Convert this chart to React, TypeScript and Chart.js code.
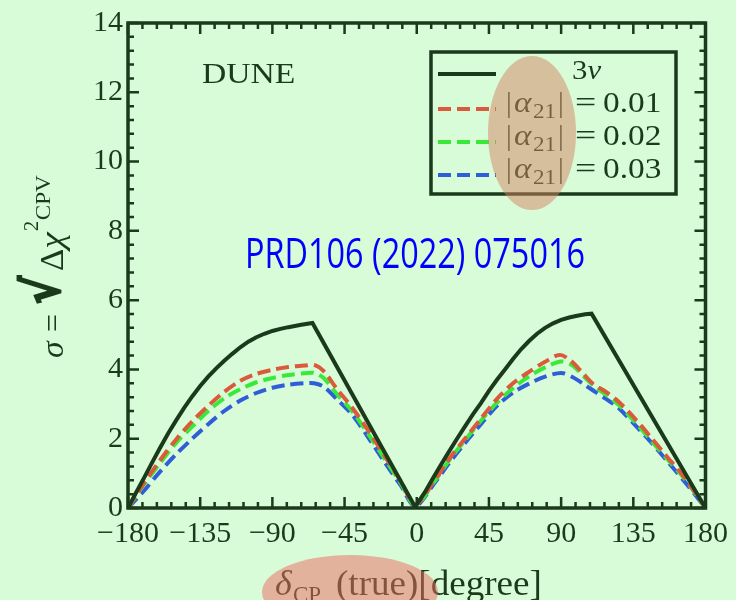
import React, { useEffect, useRef } from 'react';
import { Chart, registerables } from 'chart.js';

Chart.register(...registerables);

// ---------- data ----------
const xTickValues = [-180, -135, -90, -45, 0, 45, 90, 135, 180];
const yTickValues = [0, 2, 4, 6, 8, 10, 12, 14];

const seriesLabels = ['3ν', '|α21|=0.01', '|α21|=0.02', '|α21|=0.03'];

const deg3nu = [-180, -175, -170, -165, -160, -155, -150, -145, -140, -135, -130, -125, -120, -115, -110, -105, -100, -95, -90, -85, -80, -72, -65, -1, 5, 10, 15, 20, 25, 30, 35, 40, 45, 50, 55, 60, 65, 70, 75, 80, 85, 90, 95, 100, 105, 109, 180];
const sig3nu = [0, 0.44, 0.87, 1.31, 1.74, 2.15, 2.53, 2.89, 3.22, 3.52, 3.79, 4.03, 4.25, 4.45, 4.64, 4.8, 4.93, 5.03, 5.11, 5.17, 5.22, 5.29, 5.34, 0.03, 0.45, 0.85, 1.24, 1.62, 1.99, 2.35, 2.7, 3.03, 3.38, 3.7, 4.0, 4.3, 4.58, 4.82, 5.03, 5.2, 5.33, 5.43, 5.5, 5.55, 5.59, 5.61, 0];

const deg01 = [-180, -170, -160, -150, -140, -130, -120, -110, -100, -90, -80, -70, -64, -58, -50, -40, -30, -20, -10, -1, 10, 20, 30, 40, 50, 60, 70, 80, 89, 96, 103, 110, 118, 126, 136, 146, 156, 167, 180];
const sig01 = [0, 0.72, 1.38, 1.98, 2.5, 2.95, 3.35, 3.67, 3.87, 3.99, 4.07, 4.11, 4.13, 3.95, 3.45, 2.88, 2.22, 1.5, 0.78, 0.1, 0.72, 1.4, 2.0, 2.58, 3.15, 3.6, 3.93, 4.22, 4.42, 4.25, 3.92, 3.58, 3.35, 3.06, 2.58, 2.04, 1.48, 0.88, 0];

const deg02 = [-180, -170, -160, -150, -140, -130, -120, -110, -100, -90, -80, -70, -64, -58, -50, -40, -30, -20, -10, -1, 10, 20, 30, 40, 50, 60, 70, 80, 90, 97, 104, 111, 118, 126, 136, 146, 156, 167, 180];
const sig02 = [0, 0.68, 1.3, 1.88, 2.35, 2.8, 3.17, 3.43, 3.63, 3.75, 3.84, 3.89, 3.9, 3.75, 3.3, 2.78, 2.12, 1.42, 0.72, 0.08, 0.7, 1.36, 1.95, 2.52, 3.04, 3.46, 3.8, 4.06, 4.23, 4.12, 3.8, 3.5, 3.27, 2.97, 2.48, 1.95, 1.42, 0.84, 0];

const deg03 = [-180, -170, -160, -150, -140, -130, -120, -110, -100, -90, -80, -70, -64, -58, -50, -40, -30, -20, -10, -1, 10, 20, 30, 40, 50, 60, 70, 80, 90, 97, 104, 111, 118, 126, 136, 146, 156, 167, 180];
const sig03 = [0, 0.5, 1.05, 1.55, 2.0, 2.42, 2.8, 3.1, 3.32, 3.47, 3.56, 3.6, 3.6, 3.5, 3.15, 2.68, 2.02, 1.32, 0.65, 0.05, 0.65, 1.28, 1.87, 2.42, 2.95, 3.33, 3.59, 3.79, 3.9, 3.78, 3.58, 3.36, 3.15, 2.88, 2.4, 1.9, 1.36, 0.76, 0];

// ---------- styles ----------
const BG = '#d8fbd8';
const DARK = '#1b3a1b';
const SERIF = '"Liberation Serif", "DejaVu Serif", serif';

const toPoints = (xs: number[], ys: number[]) => xs.map((x, i) => ({ x, y: ys[i] }));

const decorPlugin = {
  id: 'decor',
  beforeDraw(chart: any) {
    const ctx = chart.ctx;
    ctx.save();
    ctx.fillStyle = BG;
    ctx.fillRect(0, 0, chart.width, chart.height);
    ctx.restore();
  },
  afterDatasetsDraw(chart: any) {
    const ctx: CanvasRenderingContext2D = chart.ctx;
    const { left, right, top, bottom } = chart.chartArea;
    const xs = chart.scales.x;
    const ys = chart.scales.y;
    ctx.save();

    // frame
    ctx.strokeStyle = DARK;
    ctx.lineWidth = 3.5;
    ctx.strokeRect(left, top, right - left, bottom - top);

    // ticks (inward, all four sides)
    ctx.lineWidth = 2.5;
    ctx.beginPath();
    for (let v = -180; v <= 180; v += 9) {
      const px = xs.getPixelForValue(v);
      const len = v % 45 === 0 ? 11 : 6;
      ctx.moveTo(px, bottom);
      ctx.lineTo(px, bottom - len);
      ctx.moveTo(px, top);
      ctx.lineTo(px, top + len);
    }
    for (let k = 0; k <= 35; k++) {
      const v = k * 0.4;
      const py = ys.getPixelForValue(v);
      const len = k % 5 === 0 ? 11 : 6;
      ctx.moveTo(left, py);
      ctx.lineTo(left + len, py);
      ctx.moveTo(right, py);
      ctx.lineTo(right - len, py);
    }
    ctx.stroke();

    const txt = (s: string, x: number, y: number, font: string, sx = 1, stroke = 0) => {
      ctx.save();
      ctx.font = font;
      ctx.translate(x, y);
      ctx.scale(sx, 1);
      ctx.fillText(s, 0, 0);
      if (stroke > 0) {
        ctx.lineWidth = stroke;
        ctx.strokeStyle = ctx.fillStyle as string;
        ctx.strokeText(s, 0, 0);
      }
      const w = ctx.measureText(s).width * sx;
      ctx.restore();
      return w;
    };

    ctx.fillStyle = DARK;
    ctx.textBaseline = 'alphabetic';
    ctx.textAlign = 'left';

    // DUNE label
    txt('DUNE', 202, 83, `30px ${SERIF}`, 1.12);

    // legend
    ctx.lineWidth = 3.5;
    ctx.strokeStyle = DARK;
    ctx.fillStyle = BG;
    ctx.fillRect(431, 52, 245, 142);
    ctx.strokeRect(431, 52, 245, 142);
    const rowsY = [74, 109, 142, 175];
    const baseY = [79, 112, 145, 178];
    chart.data.datasets.forEach((ds: any, i: number) => {
      ctx.save();
      ctx.strokeStyle = ds.borderColor;
      ctx.lineWidth = ds.borderWidth;
      ctx.setLineDash(ds.borderDash || []);
      ctx.beginPath();
      ctx.moveTo(438, rowsY[i]);
      ctx.lineTo(496, rowsY[i]);
      ctx.stroke();
      ctx.restore();
      ctx.fillStyle = DARK;
      const lab: string = ds.label;
      if (i === 0) {
        const w = txt('3', 572, baseY[i], `28px ${SERIF}`, 1.1);
        txt('ν', 572 + w, baseY[i], `italic 28px ${SERIF}`, 1.1);
      } else {
        const val = lab.split('=')[1];
        txt('|', 506, baseY[i], `29px ${SERIF}`);
        txt('α', 514, baseY[i], `italic 29px ${SERIF}`, 1.15);
        txt('21', 533, baseY[i] + 6, `21px ${SERIF}`, 1.1);
        txt('|', 558, baseY[i], `29px ${SERIF}`);
        txt('=', 575, baseY[i], `29px ${SERIF}`, 1.3);
        txt(val, 603, baseY[i], `29px ${SERIF}`, 1.15);
      }
    });

    // y-axis title (rotated)
    ctx.save();
    ctx.fillStyle = DARK;
    ctx.translate(63, 362);
    ctx.rotate(-Math.PI / 2);
    txt('σ', 4, 0, `italic 32px ${SERIF}`, 1.05);
    txt('=', 30, 0, `32px ${SERIF}`, 1.0);
    txt('√', 58, -4, `bold 50px "DejaVu Serif", ${SERIF}`, 0.85, 2.5);
    let p = 91;
    p += txt('Δ', p, 0, `33px ${SERIF}`, 1.05);
    p += txt('χ', p, 0, `italic 34px ${SERIF}`, 1.1);
    txt('2', p + 1, -25, `21px ${SERIF}`);
    txt('CPV', p + 12, -13, `22px ${SERIF}`, 1.05);
    ctx.restore();

    // x-axis title
    ctx.fillStyle = DARK;
    txt('δ', 275, 595, `italic 36px ${SERIF}`);
    txt('CP', 293, 602, `23px ${SERIF}`);
    txt('(true)[degree]', 336, 595, `36px ${SERIF}`, 1.03);

    // reference annotation (condensed to match the original width)
    ctx.fillStyle = '#0000ff';
    {
      const s = 'PRD106 (2022) 075016';
      ctx.save();
      const f = '42px "Open Sans", "Noto Sans", sans-serif';
      ctx.font = f;
      const w = ctx.measureText(s).width;
      ctx.restore();
      txt(s, 245, 268, f, 340 / w);
    }

    // overlay ellipses
    ctx.fillStyle = 'rgba(211,132,97,0.5)';
    ctx.beginPath();
    ctx.ellipse(532, 133, 44, 77, 0, 0, Math.PI * 2);
    ctx.fill();
    ctx.fillStyle = 'rgba(237,106,95,0.5)';
    ctx.beginPath();
    ctx.ellipse(350, 592, 88, 37, 0, 0, Math.PI * 2);
    ctx.fill();

    ctx.restore();
  },
};

export default function App() {
  const canvasRef = useRef<HTMLCanvasElement | null>(null);

  useEffect(() => {
    const canvas = canvasRef.current;
    if (!canvas) return;
    const chart = new Chart(canvas, {
      type: 'line',
      data: {
        datasets: [
          {
            label: seriesLabels[0],
            data: toPoints(deg3nu, sig3nu),
            borderColor: '#1b3a1b',
            borderWidth: 4,
            tension: 0,
            pointRadius: 0,
          },
          {
            label: seriesLabels[1],
            data: toPoints(deg01, sig01),
            borderColor: '#dc5a3c',
            borderWidth: 4,
            borderDash: [13, 6],
            tension: 0.3,
            pointRadius: 0,
          },
          {
            label: seriesLabels[2],
            data: toPoints(deg02, sig02),
            borderColor: '#3ae83a',
            borderWidth: 4,
            borderDash: [13, 6],
            tension: 0.3,
            pointRadius: 0,
          },
          {
            label: seriesLabels[3],
            data: toPoints(deg03, sig03),
            borderColor: '#2f5ed8',
            borderWidth: 4,
            borderDash: [13, 6],
            tension: 0.3,
            pointRadius: 0,
          },
        ],
      },
      options: {
        animation: false,
        responsive: true,
        maintainAspectRatio: false,
        devicePixelRatio: 1,
        layout: { padding: { left: 0, right: 28, top: 18, bottom: 0 } },
        plugins: { legend: { display: false }, tooltip: { enabled: false } },
        elements: { point: { radius: 0 } },
        scales: {
          x: {
            type: 'linear',
            min: xTickValues[0],
            max: xTickValues[xTickValues.length - 1],
            afterFit: (s: any) => { s.height = 92; },
            afterBuildTicks: (s: any) => { s.ticks = xTickValues.map((v) => ({ value: v })); },
            ticks: {
              autoSkip: false,
              maxRotation: 0,
              padding: 8,
              color: DARK,
              font: { family: SERIF, size: 30 },
              callback: (v: any) => (Number(v) < 0 ? '\u2212' + Math.abs(Number(v)) : String(v)),
            },
            grid: { display: false, drawTicks: false },
            border: { display: false },
          },
          y: {
            type: 'linear',
            min: yTickValues[0],
            max: yTickValues[yTickValues.length - 1],
            afterFit: (s: any) => { s.width = 128; },
            afterBuildTicks: (s: any) => { s.ticks = yTickValues.map((v) => ({ value: v })); },
            ticks: {
              padding: 5,
              color: DARK,
              font: { family: SERIF, size: 30 },
            },
            grid: { display: false, drawTicks: false },
            border: { display: false },
          },
        },
      },
      plugins: [decorPlugin],
    });
    return () => chart.destroy();
  }, []);

  return (
    <div style={{ position: 'absolute', left: 0, top: 0, width: 736, height: 600 }}>
      <canvas ref={canvasRef} />
    </div>
  );
}
